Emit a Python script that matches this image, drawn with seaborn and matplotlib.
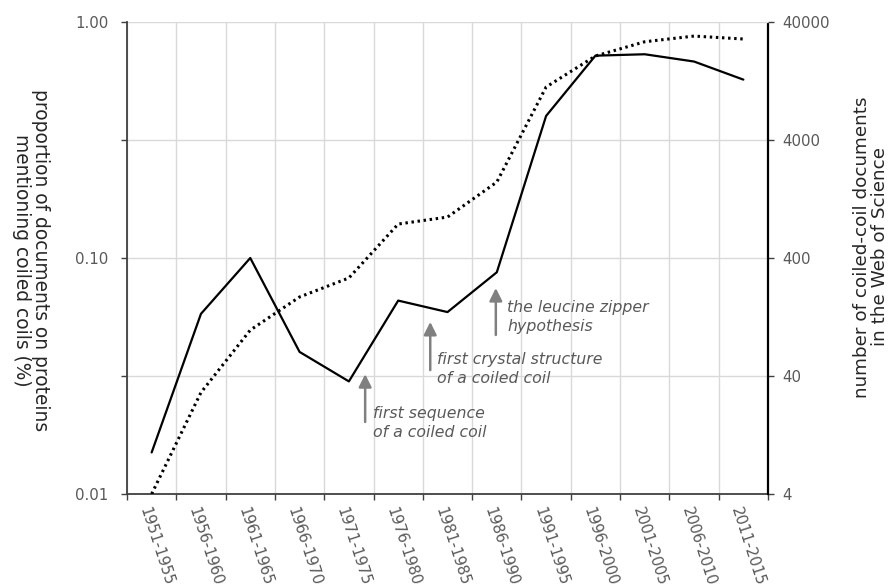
import numpy as np
import pandas as pd
import matplotlib
matplotlib.use("Agg")
import matplotlib.pyplot as plt
import matplotlib.transforms as mtransforms
import seaborn as sns

# Five-year publication windows
periods = ["1951-1955", "1956-1960", "1961-1965", "1966-1970", "1971-1975",
           "1976-1980", "1981-1985", "1986-1990", "1991-1995", "1996-2000",
           "2001-2005", "2006-2010", "2011-2015"]

# Share of protein papers that mention coiled coils (%)
proportion = [0.015, 0.058, 0.100, 0.040, 0.030, 0.066, 0.059, 0.087,
              0.40, 0.72, 0.73, 0.68, 0.57]

# Number of coiled-coil documents in the Web of Science
documents = [4, 29, 98, 187, 271, 776, 889, 1760, 11250, 20600, 27200, 30400, 28700]

left_ticks = [0.01, 0.10, 1.00]
left_tick_labels = ["0.01", "0.10", "1.00"]
left_half_decades = [0.0316, 0.316]
right_ticks = [4, 40, 400, 4000, 40000]
right_tick_labels = ["4", "40", "400", "4000", "40000"]

# Milestones: label, x position (category units), arrow tail/tip, text anchor
events = [
    ("first sequence\nof a coiled coil", 4.33, 0.0202, 0.0322, 4.49, 0.0236),
    ("first crystal structure\nof a coiled coil", 5.65, 0.0335, 0.0536, 5.79, 0.0398),
    ("the leucine zipper\nhypothesis", 6.98, 0.0472, 0.0746, 7.21, 0.0665),
]

df = pd.DataFrame({"period": periods, "proportion": proportion, "documents": documents})

sns.set_theme(style="white")
plt.rcParams["font.family"] = ["DejaVu Sans"]

tick_color = "#595959"
grid_color = "#d9d9d9"
spine_color = "#404040"

fig = plt.figure(figsize=(8.92, 5.88), dpi=100)
ax = fig.add_axes([127 / 892, 1 - 494 / 588, (768 - 127) / 892, (494 - 22) / 588])
ax2 = ax.twinx()

sns.lineplot(data=df, x="period", y="proportion", ax=ax, color="black",
             linewidth=1.6, sort=False)
sns.lineplot(data=df, x="period", y="documents", ax=ax2, color="black",
             linewidth=2.2, linestyle=(0, (0.8, 1.2)), sort=False)

n = len(periods)
for a in (ax, ax2):
    a.set_xlim(-0.5, n - 0.5)
    a.set_xlabel("")
    a.set_ylabel("")

# Left axis: log scale 0.01 - 1
ax.set_yscale("log")
ax.set_ylim(0.01, 1.0)
ax.set_yticks(left_ticks)
ax.set_yticklabels(left_tick_labels)
ax.set_yticks(left_half_decades, minor=True)
ax.yaxis.set_minor_formatter(matplotlib.ticker.NullFormatter())
ax.tick_params(axis="y", which="both", direction="out", length=4, width=1,
               color=spine_color, pad=9.5, labelsize=10.8, labelcolor=tick_color, left=True)

# Right axis: log scale 4 - 40000
ax2.set_yscale("log")
ax2.set_ylim(4, 40000)
ax2.set_yticks(right_ticks)
ax2.set_yticklabels(right_tick_labels)
ax2.yaxis.set_minor_locator(matplotlib.ticker.NullLocator())
ax2.tick_params(axis="y", which="major", direction="out", length=4, width=1,
                color=spine_color, pad=6, labelsize=10.8, labelcolor=tick_color, right=True)

# Category axis: labels at centres, ticks/grid at boundaries
ax.set_xticks(range(n))
ax.set_xticklabels(periods)
ax.set_xticks(np.arange(-0.5, n), minor=True)
ax.tick_params(axis="x", which="major", length=0, pad=9.5, labelsize=10.8,
               labelcolor=tick_color, labelbottom=True)
ax.tick_params(axis="x", which="minor", direction="out", length=4, width=1,
               color=spine_color, bottom=True)
offset = mtransforms.ScaledTranslation(-8 / 100, 0, fig.dpi_scale_trans)
for lab in ax.get_xticklabels():
    lab.set_rotation(-72)
    lab.set_rotation_mode("anchor")
    lab.set_ha("left")
    lab.set_va("center")
    lab.set_transform(lab.get_transform() + offset)

ax.grid(False)
ax2.grid(False)
ax.xaxis.grid(True, which="minor", color=grid_color, linewidth=1)
ax.yaxis.grid(True, which="both", color=grid_color, linewidth=1)
ax.set_axisbelow(True)

for a in (ax, ax2):
    a.spines["top"].set_visible(False)
ax.spines["right"].set_visible(False)
ax2.spines["left"].set_visible(False)
ax2.spines["bottom"].set_visible(False)
ax.spines["left"].set_color(spine_color)
ax.spines["left"].set_linewidth(1.3)
ax.spines["bottom"].set_color(spine_color)
ax.spines["bottom"].set_linewidth(1.3)
ax2.spines["right"].set_color("black")
ax2.spines["right"].set_linewidth(1.6)
ax2.spines["right"].set_linestyle((0, (0.8, 1.0)))

# Milestone arrows and notes
for text, x, tail, tip, tx, ty in events:
    ax.annotate("", xy=(x, tip), xytext=(x, tail),
                arrowprops=dict(arrowstyle="-|>", color="#808080", lw=1.8,
                                mutation_scale=19, shrinkA=0, shrinkB=0))
    ax.text(tx, ty, text, ha="left", va="top", fontsize=11.3, style="italic",
            color=tick_color, linespacing=1.32)

# Axis titles
fig.text(31 / 892, 1 - 260 / 588,
         "proportion of documents on proteins\nmentioning coiled coils (%)",
         rotation=-90, ha="center", va="center", multialignment="center",
         fontsize=13.4, color="#262626", linespacing=1.05)
fig.text(871 / 892, 1 - 247 / 588,
         "number of coiled-coil documents\nin the Web of Science",
         rotation=90, ha="center", va="center", multialignment="center",
         fontsize=13.2, color="#262626", linespacing=1.05)

fig.savefig("out.png", dpi=100, facecolor="white")
